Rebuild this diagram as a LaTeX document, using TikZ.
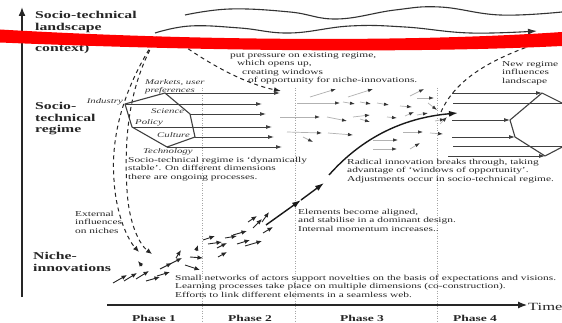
\documentclass[tikz,border=0pt]{standalone}
\usepackage{fontspec}
\setmainfont{Liberation Serif}[FakeStretch=1.5]
\usetikzlibrary{arrows.meta}
\newcommand{\levelfont}{\fontsize{10.5}{11.5}\selectfont\bfseries}
\newcommand{\notefont}{\fontsize{7.6}{8.4}\selectfont}
\newcommand{\dimfont}{\fontsize{7.2}{8.6}\selectfont\itshape}
\newcommand{\phasefont}{\fontsize{9}{10}\selectfont\bfseries}
\tikzset{
  axis line/.style={black!85, line width=1.6pt, -{Latex[length=9pt,width=7pt]}},
  wave line/.style={black!80, line width=1.1pt},
  hex line/.style={black!75, line width=1.1pt, line join=round},
  regime arrow/.style={black!75, line width=0.8pt, -{Latex[length=6pt,width=4pt]}},
  niche arrow/.style={black!85, line width=0.9pt, -{Latex[length=5.5pt,width=4.5pt]}},
  drift arrow/.style={black!30, line width=0.7pt, -{Latex[length=5pt,width=3.5pt,color=black!80]}},
  influence line/.style={black!85, line width=1pt, dash pattern=on 4pt off 3.5pt},
  phase line/.style={black!35, line width=0.5pt, dotted},
  trajectory/.style={black!90, line width=1.4pt, -{Latex[length=9pt,width=6pt]}},
  level label/.style={anchor=north west, inner sep=0pt, align=left, font=\levelfont, text=black!85},
  note text/.style={anchor=north west, inner sep=0pt, align=left, font=\notefont, text=black!85},
  dimension label/.style={anchor=west, inner sep=0pt, font=\dimfont, text=black!80},
  phase label/.style={font=\phasefont, text=black!85}
}

\begin{document}
\begin{tikzpicture}[x=1pt, y=-1pt]
  \path[use as bounding box, fill=white] (0,0) rectangle (562,323);

  % ------------------------------------------------------------------
  % Phase boundaries and axes.
  % ------------------------------------------------------------------
  \foreach \px in {202,295,437}
    \draw[phase line] (\px,88) -- (\px,323);

  \coordinate (yfoot) at (22,297);
  \coordinate (ytop) at (22,7);
  \draw[axis line] (yfoot) -- (ytop);

  \coordinate (tstart) at (107,305);
  \coordinate (tend) at (527,305);
  \draw[axis line, line width=1.2pt] (tstart) -- (tend);
  \node[anchor=west, inner sep=0pt, font=\fontsize{11}{12}\selectfont, text=black!85]
    (timelabel) at (528,307) {Time};

  \node[phase label] (phaseone) at (154,318) {Phase 1};
  \node[phase label] (phasetwo) at (250,318) {Phase 2};
  \node[phase label] (phasethree) at (362,318) {Phase 3};
  \node[phase label] (phasefour) at (475,318) {Phase 4};

  % ------------------------------------------------------------------
  % Level labels.
  % ------------------------------------------------------------------
  \node[level label] (landscapelabel) at (35,11.5) {Socio-technical\\landscape};
  \node[level label] (contextlabel) at (35,44.5) {context)};
  \node[level label] (regimelabel) at (35,102.5) {Socio-\\technical\\regime};
  \node[level label] (nichelabel) at (33,252.5) {Niche-\\innovations};

  % ------------------------------------------------------------------
  % Landscape developments.
  % ------------------------------------------------------------------
  \draw[wave line] plot[smooth, tension=0.7] coordinates
    {(185,15) (230,9) (290,12) (337,19) (395,10) (440,7) (500,15) (562,12)};
  \draw[wave line, -{Latex[length=9pt,width=6pt]}] plot[smooth, tension=0.7] coordinates
    {(155,33) (190,26) (240,28) (290,33) (350,26) (405,27) (470,33) (537,31)};

  % landscape pressure on the regime, and on niches
  \coordinate (pressstart) at (176,40);
  \coordinate (pressend) at (281,91);
  \draw[influence line, -{Latex[length=7pt,width=5pt]}]
    (pressstart) .. controls (205,62) and (245,84) .. (pressend);

  \coordinate (landfoot) at (157,37);
  \coordinate (outerbend) at (114,180);
  \coordinate (innerbend) at (127,190);
  \coordinate (outerend) at (139,252);
  \coordinate (innerend) at (152,254);
  \draw[influence line, -{Latex[length=6pt,width=5pt]}]
    (landfoot) .. controls (128,80) and (110,130) .. (outerbend)
    .. controls (116,215) and (128,240) .. (outerend);
  \draw[influence line, -{Latex[length=6pt,width=5pt]}]
    (landfoot) .. controls (128,85) and (124,140) .. (innerbend)
    .. controls (129,225) and (140,245) .. (innerend);

  \coordinate (newfoot) at (441,112);
  \coordinate (newtop) at (548,40);
  \draw[influence line] (newfoot) .. controls (455,80) and (490,58) .. (newtop);

  \node[note text] (pressurenote) at (230,52)
    {put pressure on existing regime,\\
     \hspace*{7pt}which opens up,\\
     \hspace*{12pt}creating windows\\
     \hspace*{18pt}of opportunity for niche-innovations.};
  \node[note text] (newregimenote) at (502,61) {New regime\\influences\\landscape};

  % ------------------------------------------------------------------
  % Existing regime (phase 1).
  % ------------------------------------------------------------------
  \coordinate (hInd) at (125,104);
  \coordinate (hMar) at (165,93);
  \coordinate (hSci) at (190,114);
  \coordinate (hCul) at (195,137);
  \coordinate (hTec) at (167,147);
  \coordinate (hPol) at (132,127);
  \draw[hex line] (hInd) -- (hMar) -- (hSci) -- (hCul) -- (hTec) -- (hPol) -- cycle;

  \foreach \v/\tx in {hMar/280, hInd/262, hSci/266, hPol/272, hCul/274, hTec/282}
    \draw[regime arrow] (\v) -- (\v -| \tx,0);

  \node[anchor=north west, inner sep=0pt, align=left, font=\dimfont, text=black!80]
    (marketslabel) at (145,79) {Markets, user\\preferences};
  \node[dimension label, anchor=east] (industrylabel) at (123,102) {Industry};
  \node[dimension label] (sciencelabel) at (151,111) {Science};
  \node[dimension label] (policylabel) at (135,123) {Policy};
  \node[dimension label] (culturelabel) at (157,135) {Culture};
  \node[dimension label] (technologylabel) at (143,152) {Technology};

  \node[note text] (regimenote) at (128,157)
    {Socio-technical regime is `dynamically\\
     stable'. On different dimensions\\
     there are ongoing processes.};

  % ------------------------------------------------------------------
  % Niche activity and the breakthrough trajectory.
  % ------------------------------------------------------------------
  \foreach \ax/\ay/\bx/\by in {113/283/127/275, 124/281/137/273, 136/279/149/271,
      146/281/160/277, 157/276/170/272, 160/269/172/263, 170/264/182/258,
      176/258/181/250, 142/266/138/261, 185/265/200/270, 190/257/203/258,
      196/251/198/245, 203/240/215/236, 208/244/222/242, 217/248/227/243,
      218/257/227/252, 225/238/237/236, 233/235/247/231, 237/244/250/240,
      245/246/262/241, 248/222/257/216, 253/228/262/219, 262/222/269/212,
      263/233/273/227}
    \draw[niche arrow] (\ax,\ay) -- (\bx,\by);

  \foreach \ax/\ay/\bx/\by in {310/97/336/89, 348/97/373/89, 410/96/424/89,
      417/98/434/98, 297/103/340/103, 343/102/355/104, 360/102/371/104,
      377/103/389/105, 400/106/412/107, 428/103/437/110, 280/117/320/117,
      327/117/347/121, 353/117/370/115, 360/119/370/122, 387/117/397/118,
      405/116/414/112, 417/115/428/113, 435/121/445/119, 287/132/322/133,
      328/133/353/135, 303/137/313/142, 373/140/398/140, 403/132/423/132,
      430/133/443/134, 373/149/397/149, 410/149/420/143, 440/124/447/117}
    \draw[drift arrow] (\ax,\ay) -- (\bx,\by);

  \coordinate (tr0) at (266,225);
  \coordinate (tr1) at (301,200);
  \coordinate (tr2) at (324,183);
  \coordinate (tr3) at (329,175);
  \coordinate (tr4) at (458,113);
  \draw[trajectory] (tr0) -- (tr1);
  \draw[trajectory] (tr1) -- (tr2);
  \draw[trajectory] (tr3) .. controls (360,140) and (400,118) .. (tr4);

  \node[note text] (externalnote) at (75,211) {External\\influences\\on niches};
  \node[note text] (alignnote) at (298,209)
    {Elements become aligned,\\
     and stabilise in a dominant design.\\
     Internal momentum increases..};
  \node[note text] (radicalnote) at (347,159)
    {Radical innovation breaks through, taking\\
     advantage of `windows of opportunity'.\\
     Adjustments occur in socio-technical regime.};
  \node[note text] (networknote) at (175,275)
    {Small networks of actors support novelties on the basis of expectations and visions.\\
     Learning processes take place on multiple dimensions (co-construction).\\
     Efforts to link different elements in a seamless web.};

  % ------------------------------------------------------------------
  % New regime (phase 4).
  % ------------------------------------------------------------------
  \coordinate (nTop) at (542,93);
  \coordinate (nLeft) at (510,120);
  \coordinate (nLow) at (515,137);
  \coordinate (nBot) at (545,156);
  \coordinate (nTR) at (568,106);
  \coordinate (nBR) at (568,144);
  \draw[hex line] (nTR) -- (nTop) -- (nLeft) -- (nLow) -- (nBot) -- (nBR);

  \foreach \v/\sx in {nTop/452, nLeft/452, nLow/452, nBot/448}
    \draw[regime arrow] (\v -| \sx,0) -- (\v);
  \draw[black!75, line width=0.8pt] (453,103) -- (568,103);
  \draw[black!75, line width=0.8pt] (453,146) -- (568,146);

  % ------------------------------------------------------------------
  % Red stroke across the top.
  % ------------------------------------------------------------------
  \fill[red] (0,29.5) .. controls (180,40) and (400,43) .. (562,32)
    -- (562,46) .. controls (400,54) and (180,50) .. (0,42.5) -- cycle;

\end{tikzpicture}
\end{document}
